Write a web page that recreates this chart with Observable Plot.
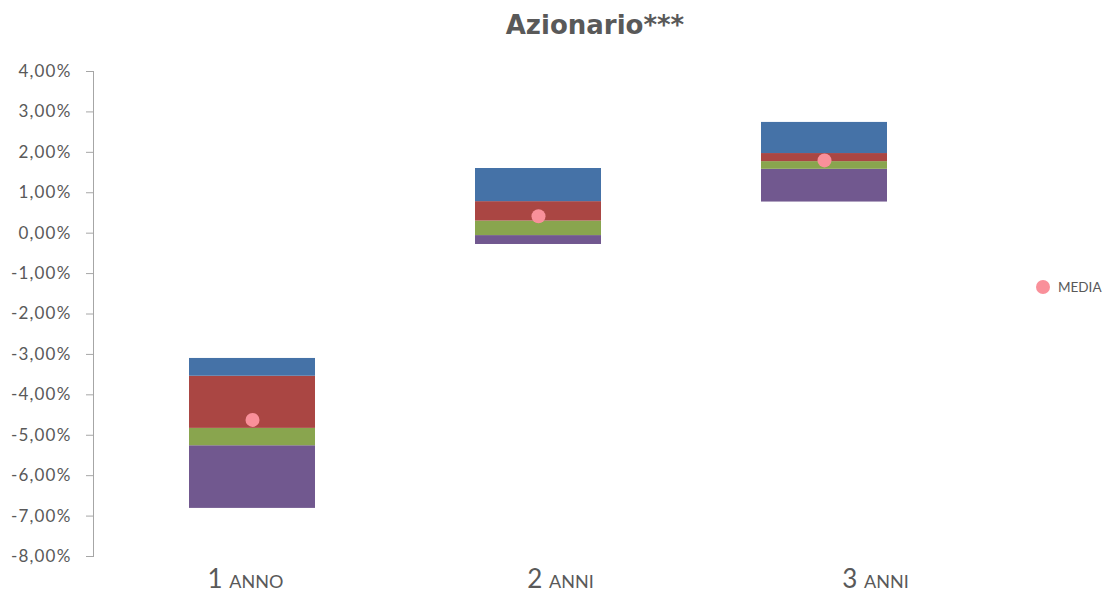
<!DOCTYPE html>
<html>
<head>
<meta charset="utf-8">
<script src="https://cdn.jsdelivr.net/npm/d3@7"></script>
<script src="https://cdn.jsdelivr.net/npm/@observablehq/plot@0.6"></script>
<style>
  body { margin: 0; background: #fff; font-family: Lato, "Open Sans", sans-serif; }
  #wrap { position: relative; width: 1108px; height: 594px; overflow: hidden; }
  #title { height: 48px; line-height: 50px; text-align: center; font-family: "DejaVu Sans", sans-serif; font-size: 26px; font-weight: bold; color: #595959; padding-left: 82px; box-sizing: border-box; }
  #legend { position: absolute; left: 1036px; top: 279px; display: flex; align-items: center; font-size: 13.5px; color: #595959; }
  #legend .dot { width: 14px; height: 14px; border-radius: 50%; background: #f9909a; margin-right: 8px; }
  #xlabels { position: absolute; left: 0; top: 540px; }
  #xlabels text { font-variant: small-caps; }
  #chart text { letter-spacing: 1.2px; }
</style>
</head>
<body>
<div id="wrap">
  <div id="title">Azionario***</div>
  <div id="chart"></div>
  <div id="xlabels"></div>
  <div id="legend"><div class="dot"></div><span>MEDIA</span></div>
</div>
<script>
// Categories
const categories = ["1 anno", "2 anni", "3 anni"];
// Boundaries of the floating stacked bands (percent values)
const purpleBottom = [-6.81, -0.28, 0.77];
const purpleTop    = [-5.26, -0.06, 1.58];
const greenTop     = [-4.83,  0.30, 1.77];
const redTop       = [-3.54,  0.78, 1.97];
const blueTop      = [-3.10,  1.60, 2.74];
// Average (MEDIA)
const media        = [-4.62,  0.42, 1.80];
// Y tick values
const yTicks = [-8, -7, -6, -5, -4, -3, -2, -1, 0, 1, 2, 3, 4];

const bandColors = ["#71588f", "#89a54e", "#aa4643", "#4572a7"];
const segments = [];
categories.forEach((c, i) => {
  const b = [purpleBottom[i], purpleTop[i], greenTop[i], redTop[i], blueTop[i]];
  for (let k = 0; k < 4; k++) {
    segments.push({cat: c, y1: b[k], y2: b[k + 1], color: bandColors[k]});
  }
});
const points = categories.map((c, i) => ({cat: c, v: media[i]}));

const fmt = d => d.toFixed(2).replace(".", ",") + "%";

const chart = Plot.plot({
  width: 1108,
  height: 546,
  marginLeft: 93,
  marginRight: 124.6,
  marginTop: 23,
  marginBottom: 38,
  style: {fontFamily: "Lato, 'Open Sans', sans-serif", background: "transparent"},
  x: {domain: categories, paddingInner: 0.56, paddingOuter: 0.334, axis: null},
  y: {domain: [-8, 4], axis: null},
  marks: [
    Plot.rectY(segments, {x: "cat", y1: "y1", y2: "y2", fill: "color"}),
    Plot.dot(points, {x: "cat", y: "v", r: 7, fill: "#f9909a", stroke: "none"}),
    Plot.frame({anchor: "left", stroke: "#a6a6a6"}),
    Plot.axisY({ticks: yTicks, tickSize: 7, tickPadding: 15, tickFormat: fmt,
      stroke: "#a6a6a6", strokeOpacity: 1, fill: "#595959", fontSize: 17, label: null})
  ]
});
document.getElementById("chart").appendChild(chart);

// Category labels (own point scale, as in the reference the labels sit apart from the bars)
const xlab = Plot.plot({
  width: 1108,
  height: 54,
  marginLeft: 244.7,
  marginRight: 233.3,
  marginTop: 16,
  marginBottom: 38,
  style: {fontFamily: "Lato, 'Open Sans', sans-serif", background: "transparent", overflow: "visible"},
  x: {type: "point", domain: categories, padding: 0, axis: null},
  marks: [
    Plot.axisX({tickSize: 0, tickPadding: 13, fill: "#595959", fontSize: 26, label: null})
  ]
});
document.getElementById("xlabels").appendChild(xlab);
</script>
</body>
</html>
